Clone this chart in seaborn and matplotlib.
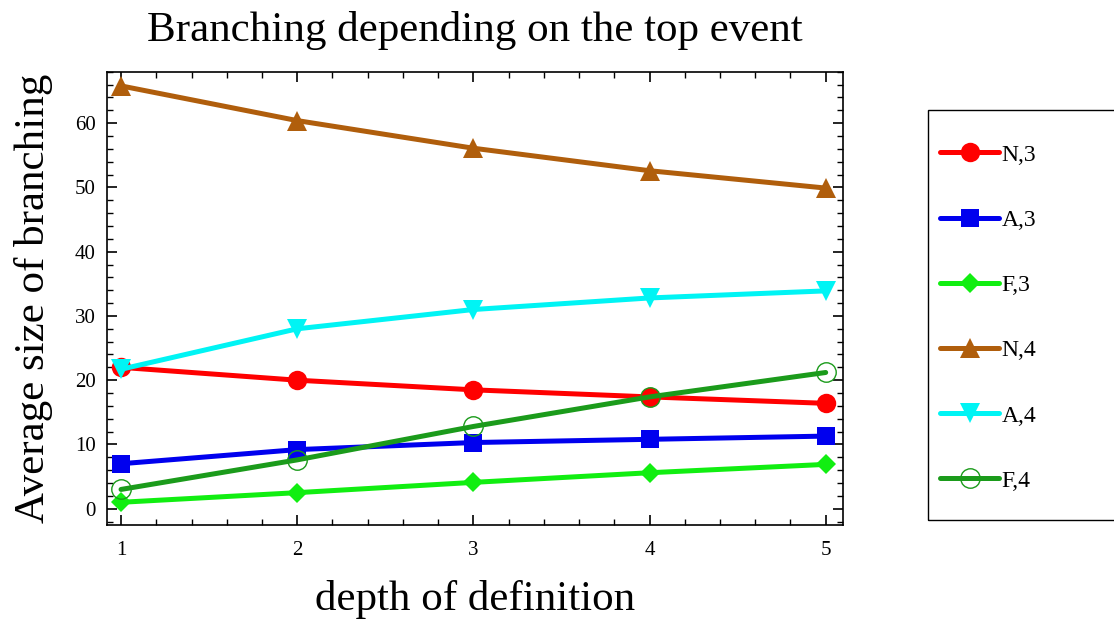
import pandas as pd
import matplotlib
matplotlib.use("Agg")
import matplotlib.pyplot as plt
import seaborn as sns
from matplotlib.ticker import MultipleLocator
from matplotlib.patches import Rectangle

depth = [1, 2, 3, 4, 5]

n3 = [22.0, 20.0, 18.5, 17.4, 16.4]
a3 = [7.0, 9.2, 10.3, 10.8, 11.3]
f3 = [1.0, 2.5, 4.1, 5.6, 6.9]
n4 = [65.8, 60.4, 56.1, 52.6, 49.9]
a4 = [21.7, 28.0, 31.0, 32.8, 33.9]
f4 = [3.0, 7.6, 12.8, 17.4, 21.2]

labels = ["N,3", "A,3", "F,3", "N,4", "A,4", "F,4"]
colors = ["#ff0000", "#0000ee", "#11ee11", "#b05e0c", "#00f4f4", "#1b9b1b"]
markers = ["o", "s", "D", "^", "v", "o"]
msizes = [14, 13, 10, 15, 15, 14]

sns.set_style("ticks", rc={"text.color": "black", "axes.labelcolor": "black",
                           "xtick.color": "black", "ytick.color": "black",
                           "axes.edgecolor": "black"})
plt.rcParams["font.family"] = ["Liberation Serif", "DejaVu Serif"]

df = pd.DataFrame({"depth": depth * 6,
                   "value": n3 + a3 + f3 + n4 + a4 + f4,
                   "series": [l for l in labels for _ in depth]})

fig = plt.figure(figsize=(11.14, 6.24), dpi=100)
ax = fig.add_axes([0.096, 0.159, 0.661, 0.726])

for lab, col, mk, ms in zip(labels, colors, markers, msizes):
    sub = df[df["series"] == lab]
    open_mk = lab == "F,4"
    sns.lineplot(data=sub, x="depth", y="value", ax=ax, color=col, lw=3.6,
                 marker=mk, markersize=ms,
                 markerfacecolor="none" if open_mk else col,
                 markeredgecolor=col, markeredgewidth=1.0 if open_mk else 0,
                 label=lab)

ax.set_xlim(0.92, 5.1)
ax.set_ylim(-2.5, 68)
ax.xaxis.set_major_locator(MultipleLocator(1))
ax.xaxis.set_minor_locator(MultipleLocator(0.2))
ax.yaxis.set_major_locator(MultipleLocator(10))
ax.yaxis.set_minor_locator(MultipleLocator(2))
ax.tick_params(which="both", direction="in", top=True, right=True, labelsize=15)
ax.tick_params(axis="y", pad=8)
ax.tick_params(axis="x", pad=12)
ax.tick_params(which="major", length=7, width=1.2)
ax.tick_params(which="minor", length=4, width=1.0)
for s in ax.spines.values():
    s.set_linewidth(1.2)

ax.set_title("Branching depending on the top event", fontsize=31, pad=22)
ax.set_xlabel("depth of definition", fontsize=31, labelpad=14)
ax.set_ylabel("Average size of branching", fontsize=31, labelpad=16)

ax.legend_.remove()
handles, labs = ax.get_legend_handles_labels()

# legend box runs off the right edge like in the original
fig.patches.append(Rectangle((0.833, 0.167), 0.2, 0.657, transform=fig.transFigure,
                             fill=False, edgecolor="black", linewidth=1.0))
leg = fig.legend(handles, labs, loc="upper left", bbox_to_anchor=(0.844, 0.769),
                 fontsize=17, frameon=False, handlelength=2.5, labelspacing=1.85,
                 borderpad=0, handletextpad=0.1, borderaxespad=0)

fig.savefig("out.png", dpi=100)
